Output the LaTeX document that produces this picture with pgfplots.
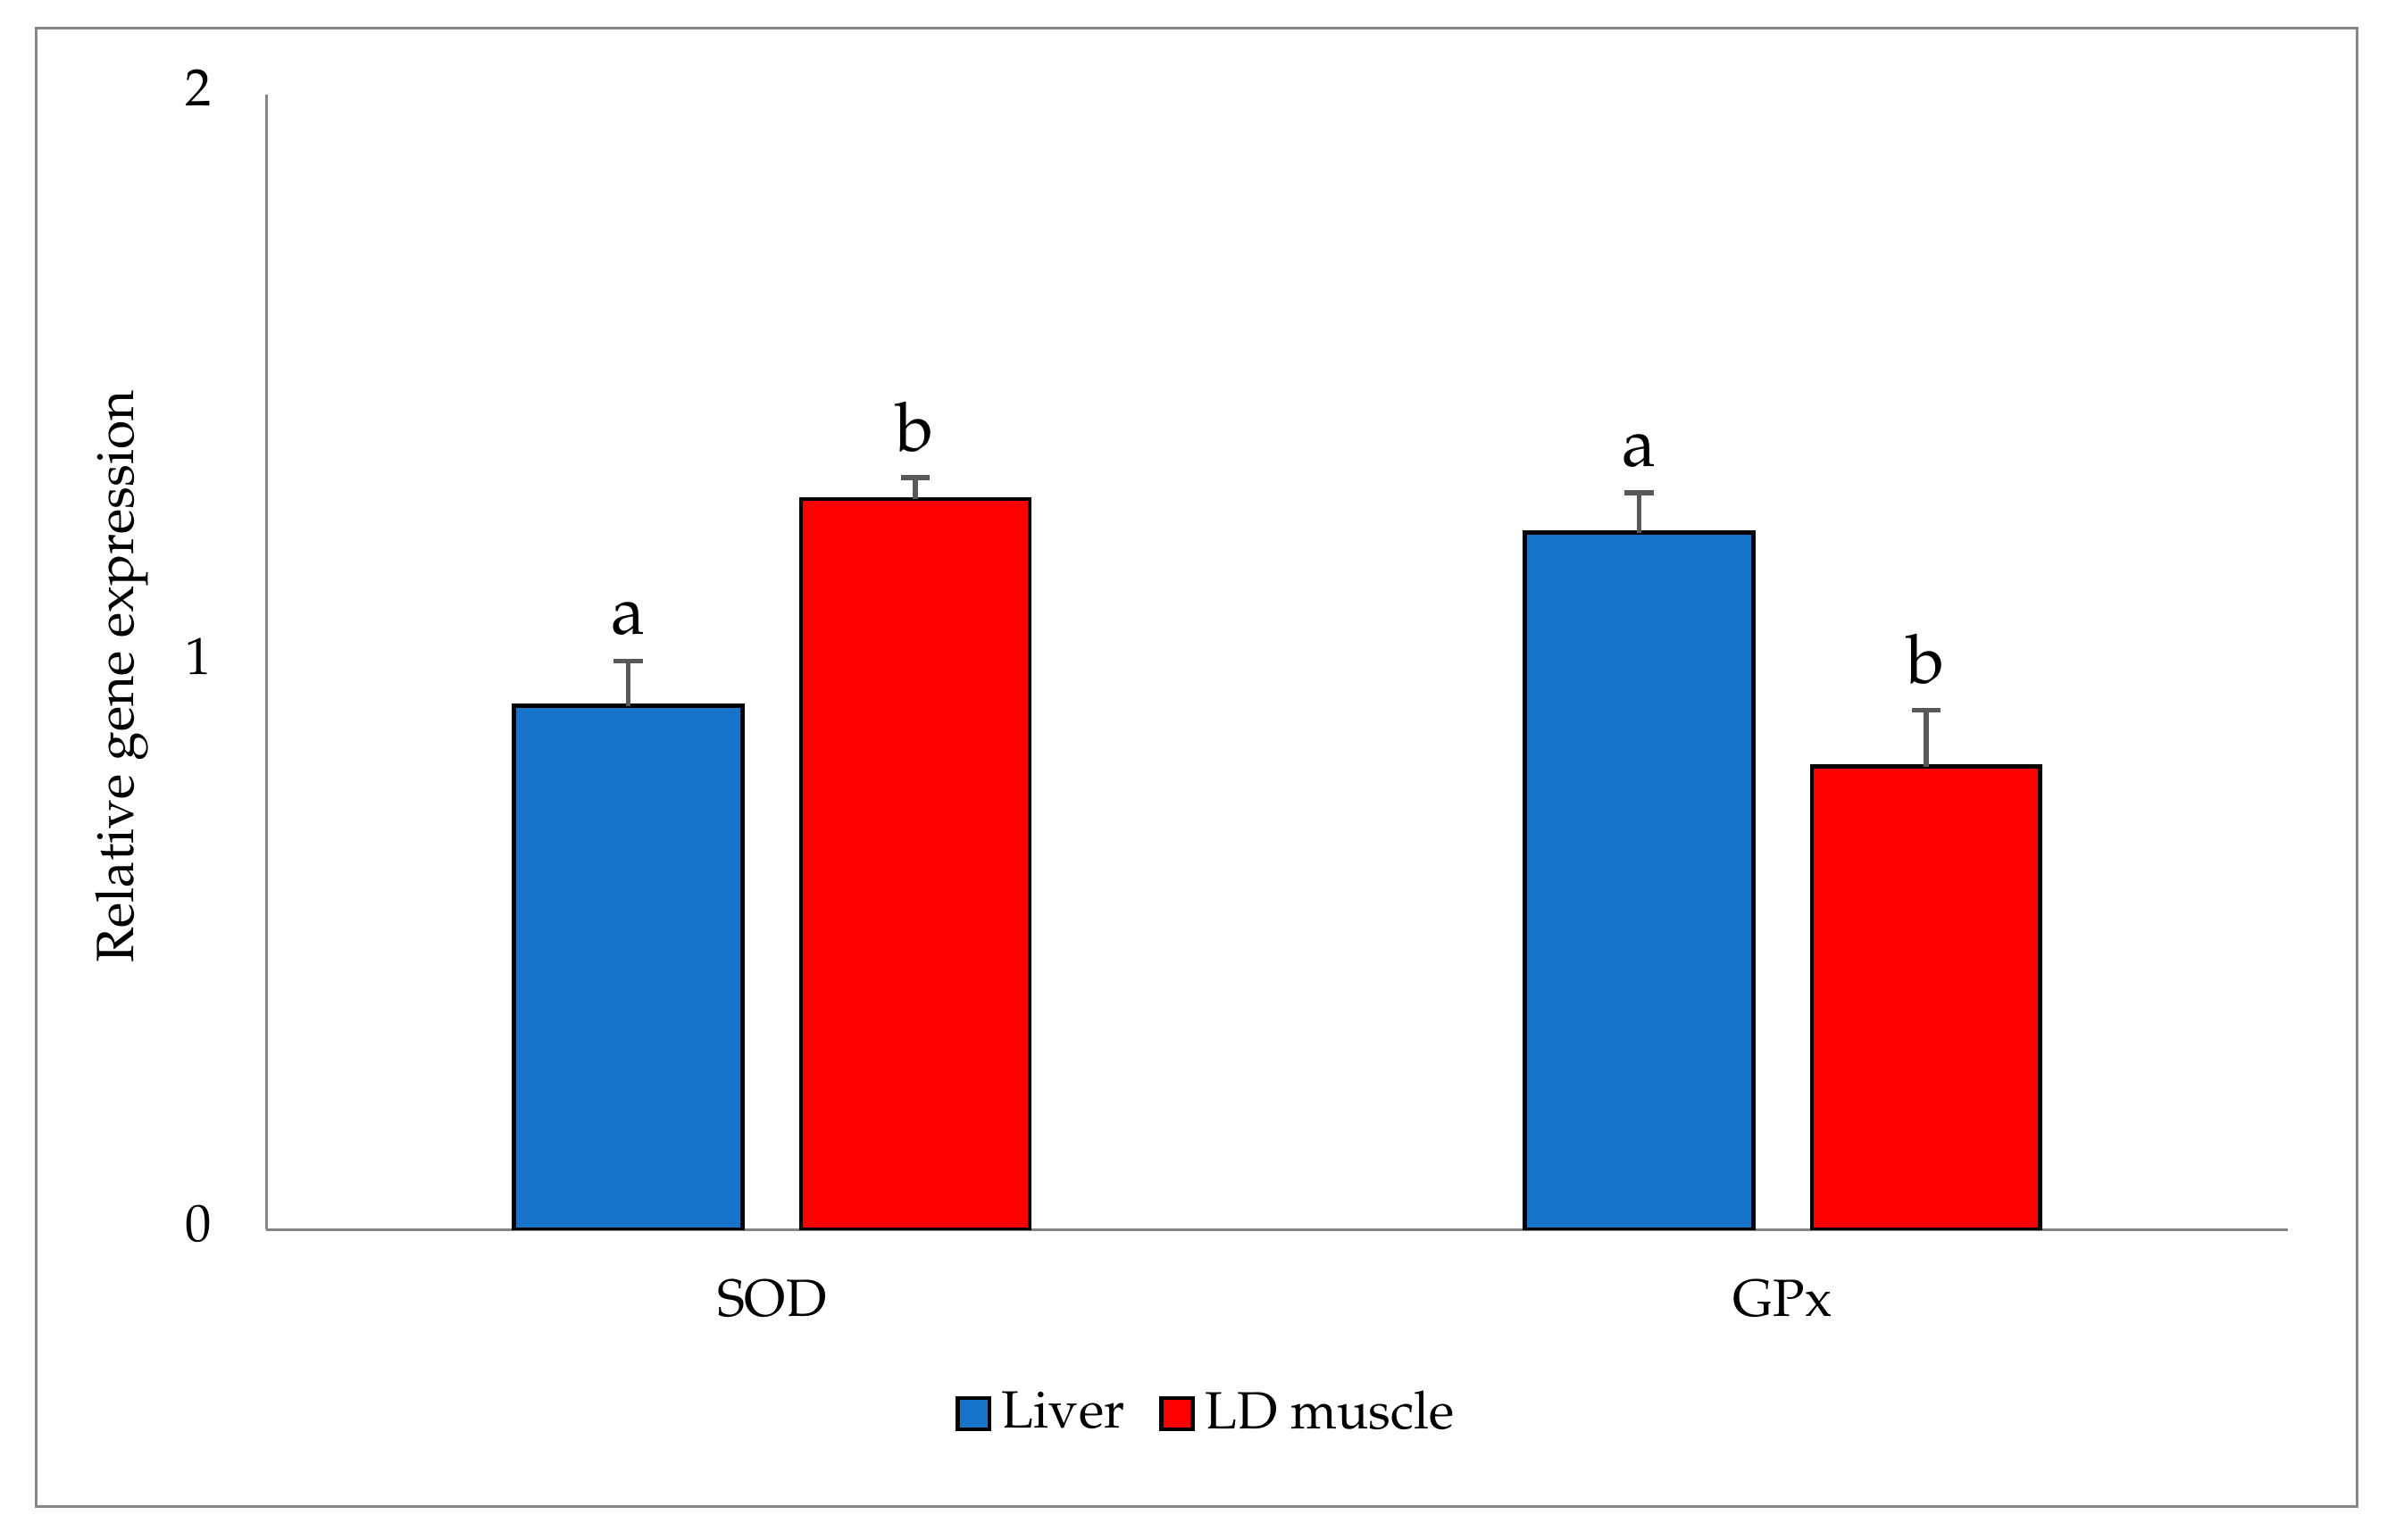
\documentclass[border=0pt]{standalone}
\usepackage[T1]{fontenc}
\usepackage{mathpazo}
\usepackage{pgfplots}
\pgfplotsset{compat=1.18}
\definecolor{liverblue}{RGB}{24,116,202}
\definecolor{ldred}{RGB}{255,0,0}
\definecolor{axgray}{RGB}{134,134,134}
\definecolor{errgray}{RGB}{89,89,89}
\begin{document}
\begin{tikzpicture}
\path[use as bounding box] (0,0) rectangle (16cm,10.32cm);
\draw[axgray, line width=0.5pt] (0.245cm,0.22cm) rectangle (15.80cm,10.13cm);
\begin{axis}[
  at={(1.786cm,2.075cm)}, anchor=south west,
  scale only axis, width=13.55cm, height=7.612cm,
  xmin=-0.5, xmax=1.5, ymin=0, ymax=2,
  axis lines*=left,
  axis line style={axgray, line width=0.6pt},
  major tick length=0pt,
  xtick={0,1}, xticklabels={SOD,GPx},
  ytick={0,1,2},
  tick label style={font=\fontsize{10}{12}\selectfont},
  yticklabel style={inner sep=0pt, anchor=east, xshift=-0.36cm, yshift=0.04cm},
  xticklabel style={inner sep=0pt, anchor=north, yshift=-0.33cm},
  ylabel={Relative gene expression},
  ylabel style={at={(axis description cs:-0.0716,0.487)}, anchor=center, font=\fontsize{10}{12}\selectfont},
  legend style={at={(0.467,-0.162)}, anchor=center, legend columns=2, draw=none,
    font=\fontsize{10}{12}\selectfont,
    /tikz/every even column/.append style={column sep=0.16cm}},
  legend image code/.code={\draw[#1, draw=black, line width=0.8pt] (0cm,-0.105cm) rectangle (0.21cm,0.105cm);},
]
\addplot[ybar, bar width=0.226, bar shift=-0.142, fill=liverblue, draw=black, line width=0.8pt]
  coordinates {(0,0.923) (1,1.228)};
\addlegendentry{Liver}
\addplot[ybar, bar width=0.226, bar shift=0.142, fill=ldred, draw=black, line width=0.8pt]
  coordinates {(0,1.287) (1,0.816)};
\addlegendentry{LD muscle}
% error bars at the bar centres (one plot per bar, no connecting line)
\pgfplotsset{errstyle/.style={draw=none, mark=none, forget plot,
  error bars/.cd, y dir=plus, y explicit, error mark=|,
  error bar style={draw=errgray, line width=0.9pt},
  error mark options={draw=errgray, line width=0.9pt, mark size=2.75pt}}}
\addplot[errstyle] coordinates {(-0.142,0.923) +- (0,0.079)};
\addplot[errstyle] coordinates {(0.858,1.228) +- (0,0.070)};
\addplot[errstyle] coordinates {(0.142,1.287) +- (0,0.038)};
\addplot[errstyle] coordinates {(1.142,0.816) +- (0,0.099)};
% significance letters
\addplot[draw=none, mark=none, forget plot,
  nodes near coords, point meta=explicit symbolic,
  every node near coord/.append style={anchor=south, inner sep=0pt, yshift=0.17cm, font=\fontsize{13}{15}\selectfont, text=black}]
  coordinates {(-0.142,1.002) [a] (0.142,1.325) [b] (0.858,1.298) [a] (1.142,0.915) [b]};
\end{axis}
\end{tikzpicture}
\end{document}
